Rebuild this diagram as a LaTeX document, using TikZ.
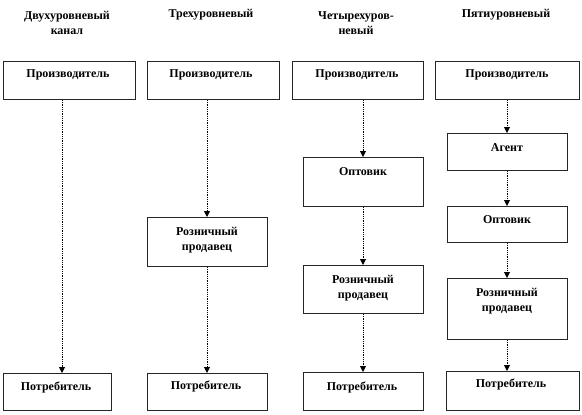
\documentclass[tikz,border=0pt]{standalone}
\usepackage{fontspec}
\setmainfont{Liberation Serif}[BoldFont={Liberation Serif Bold}]
\usetikzlibrary{arrows.meta}
\begin{document}
\begin{tikzpicture}[x=1pt,y=-1pt,
  box/.style={draw=black!85, line width=1pt, anchor=north west, inner sep=0pt},
  txt/.style={font=\fontsize{12}{15}\selectfont\bfseries, align=center, inner sep=0pt},
  arr/.style={draw=black, line width=1pt, dash pattern=on 1pt off 0.8pt, -{Triangle[width=6pt,length=6pt]}}]
\useasboundingbox[fill=white] (0,0) rectangle (582,415);
% headers
\node[txt] (h1) at (67,23) {Двухуровневый\\канал};
\node[txt] (h2) at (211,15) {Трехуровневый};
\node[txt] (h3) at (356,23) {Четырехуров-\\невый};
\node[txt] (h4) at (506,15) {Пятиуровневый};
% column x positions for connectors
\coordinate (c1) at (62,0);
\coordinate (c2) at (207,0);
\coordinate (c3) at (363,0);
\coordinate (c4) at (507,0);
% column 1
\node[box, minimum width=132, minimum height=38] (p1) at (3,61) {};
\node[txt] (tp1) at (68,75) {Производитель};
\node[box, minimum width=108, minimum height=37] (k1) at (3,373) {};
\node[txt] (tk1) at (56,387) {Потребитель};
% column 2
\node[box, minimum width=132, minimum height=38] (p2) at (147,61) {};
\node[txt] (tp2) at (211,75) {Производитель};
\node[box, minimum width=120, minimum height=49] (r2) at (147,217) {};
\node[txt] (tr2) at (207,240) {Розничный\\продавец};
\node[box, minimum width=120, minimum height=37] (k2) at (147,373) {};
\node[txt] (tk2) at (206,386) {Потребитель};
% column 3
\node[box, minimum width=131, minimum height=38] (p3) at (292,61) {};
\node[txt] (tp3) at (357,75) {Производитель};
\node[box, minimum width=120, minimum height=49] (o3) at (303,157) {};
\node[txt] (to3) at (363,172) {Оптовик};
\node[box, minimum width=120, minimum height=48] (r3) at (303,265) {};
\node[txt] (tr3) at (363,288) {Розничный\\продавец};
\node[box, minimum width=120, minimum height=38] (k3) at (303,372) {};
\node[txt] (tk3) at (362,387) {Потребитель};
% column 4
\node[box, minimum width=144, minimum height=38] (p4) at (435,61) {};
\node[txt] (tp4) at (507,75) {Производитель};
\node[box, minimum width=120, minimum height=37] (a4) at (447,133) {};
\node[txt] (ta4) at (507,148) {Агент};
\node[box, minimum width=120, minimum height=36] (o4) at (447,206) {};
\node[txt] (to4) at (507,220) {Оптовик};
\node[box, minimum width=120, minimum height=61] (r4) at (447,278) {};
\node[txt] (tr4) at (507,301) {Розничный\\продавец};
\node[box, minimum width=133, minimum height=39] (k4) at (446,371) {};
\node[txt] (tk4) at (511,384) {Потребитель};
% connectors
\draw[arr] (p1.south -| c1) -- (k1.north -| c1);
\draw[arr] (p2.south -| c2) -- (r2.north -| c2);
\draw[arr] (r2.south -| c2) -- (k2.north -| c2);
\draw[arr] (p3.south -| c3) -- (o3.north -| c3);
\draw[arr] (o3.south -| c3) -- (r3.north -| c3);
\draw[arr] (r3.south -| c3) -- (k3.north -| c3);
\draw[arr] (p4.south -| c4) -- (a4.north -| c4);
\draw[arr] (a4.south -| c4) -- (o4.north -| c4);
\draw[arr] (o4.south -| c4) -- (r4.north -| c4);
\draw[arr] (r4.south -| c4) -- (k4.north -| c4);
\end{tikzpicture}
\end{document}
